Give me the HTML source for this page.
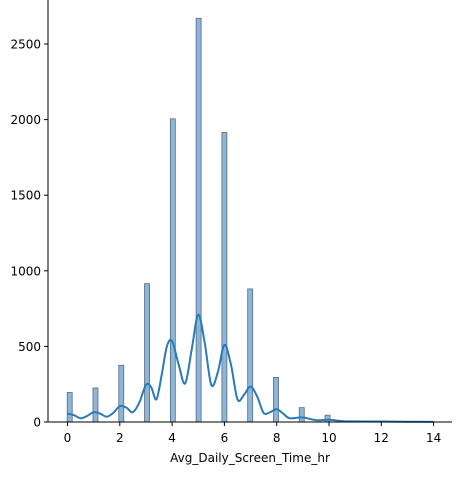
<!DOCTYPE html>
<html><head><meta charset="utf-8"><style>body{margin:0;background:#fff}svg{display:block;font-family:"DejaVu Sans","Liberation Sans",sans-serif}</style></head>
<body>
<svg id="c" width="467" height="480"></svg>
<script>
const binStarts=[0,1,2,3,4,5,6,7,8,9,10,11,12,13];
const counts=[195,225,375,915,2005,2670,1915,880,295,95,45,6,3,2];
const kdeX=[0,0.25,0.5,0.75,1,1.25,1.5,1.75,2,2.25,2.5,2.75,3,3.2,3.4,3.6,3.8,4,4.25,4.5,4.75,5,5.25,5.5,5.75,6,6.25,6.5,6.75,7,7.25,7.5,7.75,8,8.25,8.5,9,9.5,10,10.5,11,12,13,14];
const kdeY=[55,45,25,40,65,55,35,60,105,95,65,130,245,230,150,310,500,535,380,255,480,710,520,245,330,510,380,150,180,235,170,60,65,85,55,25,30,12,15,6,4,3,2,1];
const xTicks=[0,2,4,6,8,10,12,14];
const yTicks=[0,500,1000,1500,2000,2500];
const NS="http://www.w3.org/2000/svg",svg=document.getElementById('c');
const X=v=>67.5+v*26.15, Y=v=>422-v*0.1512;
function el(t,a,p){const e=document.createElementNS(NS,t);for(const k in a)e.setAttribute(k,a[k]);(p||svg).appendChild(e);return e;}
binStarts.forEach((b,i)=>{const r=el('rect',{x:X(b*0.986)-0.3,y:Y(counts[i]),width:5,height:422-Y(counts[i]),fill:'#8cb6d9',stroke:'#5a6a78','stroke-width':0.8});

});
const pts=kdeX.map((x,i)=>[X(x),Y(kdeY[i])]);
let d='M'+pts[0];
for(let i=0;i<pts.length-1;i++){const p0=pts[i-1]||pts[i],p1=pts[i],p2=pts[i+1],p3=pts[i+2]||p2;
d+=` C${p1[0]+(p2[0]-p0[0])/6},${p1[1]+(p2[1]-p0[1])/6} ${p2[0]-(p3[0]-p1[0])/6},${p2[1]-(p3[1]-p1[1])/6} ${p2[0]},${p2[1]}`;}
const k=el('path',{d:d,fill:'none',stroke:'#2a7ab8','stroke-width':2});


el('line',{x1:48,y1:0,x2:48,y2:422,stroke:'#000','stroke-width':1});
el('line',{x1:48,y1:422,x2:452,y2:422,stroke:'#000','stroke-width':1});
xTicks.forEach(t=>{el('line',{x1:X(t),y1:422,x2:X(t),y2:426,stroke:'#000'});const s=el('text',{x:X(t),y:442,'text-anchor':'middle','font-size':12});s.textContent=t;

});
yTicks.forEach(t=>{el('line',{x1:44,y1:Y(t),x2:48,y2:Y(t),stroke:'#000'});const s=el('text',{x:41,y:Y(t)+4.5,'text-anchor':'end','font-size':12});s.textContent=t;

});
const xl=el('text',{x:250,y:462,'text-anchor':'middle','font-size':12});xl.textContent='Avg_Daily_Screen_Time_hr';


</script>
</body></html>
